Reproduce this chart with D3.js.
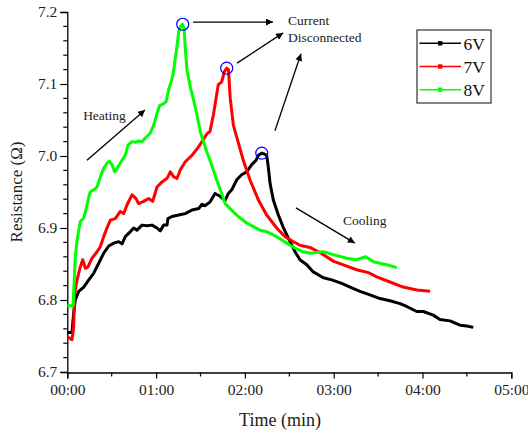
<!DOCTYPE html>
<html>
<head>
<meta charset="utf-8">
<script src="https://cdn.jsdelivr.net/npm/d3@7"></script>
<style>
  html, body { margin: 0; padding: 0; background: #fff; }
  svg { display: block; font-family: "Liberation Serif", "Times New Roman", serif; }
</style>
</head>
<body>
<svg id="chart" width="528" height="437"></svg>
<script>
// ---- data (time in seconds, resistance in ohms) ----
const seriesNames = ["6V", "7V", "8V"];
const seriesColors = ["#000000", "#ff0000", "#00ff00"];

const t6 = [0,3.2,4.3,5.4,7.7,11.1,14.5,17.8,21.2,24.6,28.0,31.4,34.7,37.0,39.2,42.6,44.9,47.1,50.5,53.9,57.2,60.6,62.8,65.1,67.4,68.0,70.7,75.3,79.7,84.3,88.8,91.0,93.0,96.4,99.8,103.2,106.6,108.8,111.1,114.5,117.8,121.2,124.6,127.5,129.1,131.4,132.9,134.7,135.8,137.0,139.2,142.6,145.9,150.5,153.9,157.2,161.8,166.2,173.0,178.7,185.4,191.0,197.8,204.5,211.3,218.0,224.8,229.3,236.1,240.5,247.3,251.8,258.6,265.3,269.9,274.3];
const r6 = [6.755,6.755,6.782,6.800,6.812,6.818,6.828,6.837,6.851,6.865,6.875,6.879,6.881,6.878,6.888,6.895,6.900,6.897,6.904,6.903,6.904,6.900,6.896,6.904,6.904,6.913,6.916,6.918,6.920,6.925,6.927,6.933,6.931,6.936,6.948,6.944,6.938,6.948,6.953,6.967,6.974,6.978,6.988,6.994,7.001,7.004,7.003,7.001,6.985,6.962,6.939,6.918,6.901,6.881,6.867,6.856,6.849,6.839,6.831,6.828,6.823,6.818,6.812,6.807,6.802,6.799,6.795,6.791,6.784,6.784,6.779,6.773,6.771,6.765,6.764,6.762];

const t7 = [0,3.2,4.3,5.0,6.6,8.8,10.4,12.2,14.0,16.7,20.1,22.3,24.6,26.8,29.1,32.4,35.8,38.1,40.3,43.7,46.4,48.2,51.6,55.0,57.7,60.6,64.0,67.4,69.6,71.9,74.1,76.4,79.7,84.3,88.8,91.7,94.4,96.4,98.7,100.5,102.0,104.3,106.1,107.7,108.9,110.1,112.2,115.5,118.9,123.4,129.1,134.7,141.5,147.1,152.7,157.2,164.0,170.7,179.7,188.8,195.5,203.4,209.1,218.0,227.0,236.1,245.1];
const r7 = [6.749,6.745,6.763,6.809,6.828,6.846,6.856,6.844,6.846,6.858,6.867,6.874,6.888,6.900,6.911,6.913,6.923,6.920,6.932,6.946,6.941,6.934,6.937,6.941,6.937,6.957,6.964,6.969,6.978,6.971,6.969,6.981,6.992,7.001,7.013,7.022,7.031,7.034,7.057,7.080,7.099,7.103,7.117,7.122,7.120,7.080,7.043,7.019,6.994,6.967,6.939,6.918,6.900,6.888,6.881,6.876,6.873,6.866,6.854,6.847,6.842,6.838,6.832,6.825,6.818,6.814,6.812];

const t8 = [0,3.9,5.4,6.6,8.8,11.1,12.6,14.5,15.5,17.8,20.1,22.3,24.6,26.8,28.4,30.2,32.0,34.3,37.0,39.2,41.0,43.7,45.9,48.2,50.5,52.7,56.1,58.4,60.6,62.4,64.7,66.9,68.5,70.1,71.4,73.0,74.1,75.3,76.6,78.0,78.9,79.7,80.9,83.1,85.3,87.6,89.9,94.2,96.4,100.9,104.3,106.6,109.9,115.5,121.2,125.7,130.2,134.7,141.5,148.3,150.5,153.9,159.5,164.0,173.0,179.7,188.8,195.1,201.8,206.8,215.8,222.6];
const r8 = [6.792,6.792,6.860,6.883,6.909,6.914,6.925,6.943,6.950,6.953,6.957,6.971,6.983,6.990,6.993,6.988,6.978,6.985,6.994,7.001,7.015,7.020,7.019,7.021,7.020,7.025,7.032,7.043,7.059,7.070,7.072,7.076,7.092,7.103,7.113,7.136,7.152,7.173,7.180,7.183,7.177,7.150,7.119,7.096,7.078,7.057,7.034,7.006,6.994,6.967,6.948,6.934,6.927,6.916,6.907,6.902,6.897,6.895,6.888,6.879,6.876,6.872,6.867,6.865,6.867,6.863,6.858,6.856,6.860,6.853,6.849,6.845];

const xTickValues = [0, 60, 120, 180, 240, 300];
const yTickValues = [6.7, 6.8, 6.9, 7.0, 7.1, 7.2];

// annotations in data units: [t1, r1, t2, r2]
const arrows = [
  [13.3, 6.994, 52.5, 7.064],     // heating
  [84.9, 7.186, 139.0, 7.186],    // from 8V peak
  [114.7, 7.129, 145.8, 7.171],   // from 7V peak
  [140.3, 7.035, 157.9, 7.142],   // from 6V peak
  [154.5, 6.928, 194.3, 6.879]    // cooling
];
const labels = [
  ["Heating", 10.7, 7.050],
  ["Current", 149.1, 7.182],
  ["Disconnected", 149.1, 7.158],
  ["Cooling", 186.3, 6.904]
];

// ---- drawing ----
const svg = d3.select("#chart");
const x = d3.scaleLinear().domain([0, 300]).range([67.3, 511.3]);
const y = d3.scaleLinear().domain([6.7, 7.2]).range([372, 12]);

const fmt = s => {
  const m = Math.floor(s / 60), sec = Math.round(s % 60);
  return String(m).padStart(2, "0") + ":" + String(sec).padStart(2, "0");
};

// axes
const xAxis = d3.axisBottom(x).tickValues(xTickValues).tickFormat(fmt).tickSizeOuter(0).tickSize(6).tickPadding(5);
const gx = svg.append("g").attr("transform", "translate(0,372.5)").call(xAxis);
gx.append("g").selectAll("line").data(d3.range(30, 300, 60)).join("line")
  .attr("x1", d => x(d)).attr("x2", d => x(d)).attr("y1", 0).attr("y2", 4).attr("stroke", "#000").attr("stroke-width", 1.2);

const yAxis = d3.axisLeft(y).tickValues(yTickValues).tickFormat(d3.format(".1f")).tickSizeOuter(0).tickSize(7).tickPadding(3);
const gy = svg.append("g").attr("transform", "translate(67.3,0)").call(yAxis);
const minorY = d3.range(6.72, 7.2, 0.02).filter(v => Math.abs(Math.round(v * 10) - v * 10) > 0.01);
gy.append("g").selectAll("line").data(minorY).join("line")
  .attr("y1", d => y(d)).attr("y2", d => y(d)).attr("x1", 0).attr("x2", -4).attr("stroke", "#000").attr("stroke-width", 1.2);

[gx, gy].forEach(g => {
  g.selectAll(".domain").attr("stroke", "#000").attr("stroke-width", 1.3);
  g.selectAll(".tick line").attr("stroke", "#000").attr("stroke-width", 1.2);
  g.selectAll("text").attr("font-family", "Liberation Serif").attr("font-size", 15.5).attr("fill", "#222");
});

svg.append("text").attr("x", 280).attr("y", 426).attr("text-anchor", "middle")
  .attr("font-size", 18).attr("fill", "#222").text("Time (min)");
svg.append("text").attr("transform", "translate(22,192) rotate(-90)").attr("text-anchor", "middle")
  .attr("font-size", 17).attr("fill", "#222").text("Resistance (Ω)");

// series
const seriesData = [
  t6.map((t, i) => [t, r6[i]]),
  t7.map((t, i) => [t, r7[i]]),
  t8.map((t, i) => [t, r8[i]])
];
const line = d3.line().x(d => x(d[0])).y(d => y(d[1]));
seriesData.forEach((data, i) => {
  svg.append("path").datum(data).attr("d", line).attr("fill", "none")
    .attr("stroke", seriesColors[i]).attr("stroke-width", 3).attr("stroke-linejoin", "round");
});

// peak circles
seriesData.forEach(data => {
  const p = data[d3.maxIndex(data, d => d[1])];
  svg.append("circle").attr("cx", x(p[0])).attr("cy", y(p[1])).attr("r", 6)
    .attr("fill", "none").attr("stroke", "#0000ff").attr("stroke-width", 1.2);
});

// arrows
svg.append("defs").append("marker").attr("id", "ah").attr("viewBox", "0 0 10 10")
  .attr("refX", 10).attr("refY", 5).attr("markerWidth", 10).attr("markerHeight", 7)
  .attr("markerUnits", "userSpaceOnUse").attr("orient", "auto")
  .append("path").attr("d", "M0,0 L10,5 L0,10 Z").attr("fill", "#000");
arrows.forEach(a => {
  svg.append("line").attr("x1", x(a[0])).attr("y1", y(a[1])).attr("x2", x(a[2])).attr("y2", y(a[3]))
    .attr("stroke", "#000").attr("stroke-width", 1.3).attr("marker-end", "url(#ah)");
});
labels.forEach(l => {
  svg.append("text").attr("x", x(l[1])).attr("y", y(l[2])).attr("font-size", 13.5).attr("fill", "#222").text(l[0]);
});

// legend
const lg = svg.append("g");
lg.append("rect").attr("x", 417).attr("y", 30).attr("width", 74).attr("height", 73)
  .attr("fill", "#fff").attr("stroke", "#333").attr("stroke-width", 1.2);
seriesNames.forEach((n, i) => {
  const yy = 43.3 + i * 23.2;
  lg.append("line").attr("x1", 419.5).attr("x2", 461).attr("y1", yy).attr("y2", yy)
    .attr("stroke", seriesColors[i]).attr("stroke-width", 1.5);
  lg.append("rect").attr("x", 438).attr("y", yy - 2.2).attr("width", 4.4).attr("height", 4.4).attr("fill", seriesColors[i]);
  lg.append("text").attr("x", 463.5).attr("y", yy + 6.5).attr("font-size", 17.5).attr("fill", "#111").text(n);
});
</script>
</body>
</html>
